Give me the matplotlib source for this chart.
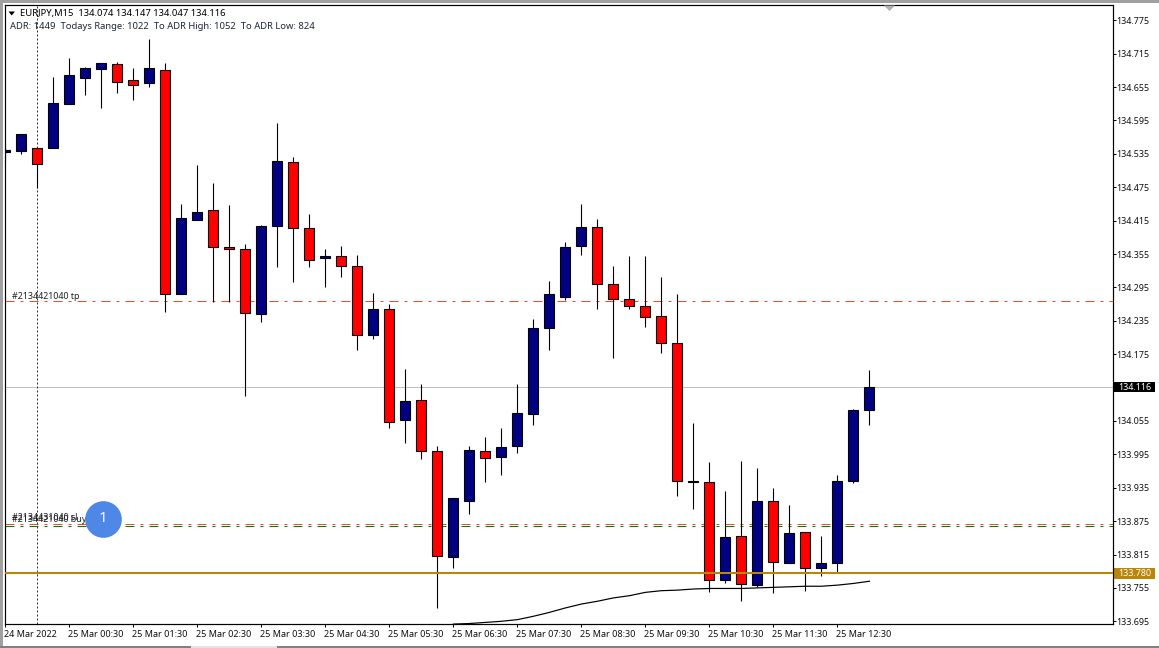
#!/usr/bin/env python3
# -*- coding: utf-8 -*-
"""
EURJPY M15 candles, MT4 look
"""

import matplotlib
matplotlib.use('Agg')
import matplotlib.pyplot as plt
from matplotlib.patches import Rectangle, Polygon
from matplotlib.transforms import blended_transform_factory, ScaledTranslation

# candle values
opens = [134.5375, 134.541, 134.545, 134.546, 134.625, 134.672, 134.688, 134.696, 134.667, 134.663,
         134.685, 134.284, 134.417, 134.434, 134.367, 134.364, 134.248, 134.405, 134.520, 134.401,
         134.347, 134.351, 134.333, 134.209, 134.256, 134.056, 134.092, 134.001, 133.810, 133.912,
         134.001, 133.990, 134.010, 134.068, 134.222, 134.277, 134.369, 134.403, 134.302, 134.275,
         134.261, 134.243, 134.195, 133.948, 133.945, 133.769, 133.848, 133.760, 133.911, 133.799,
         133.855, 133.790, 133.799, 133.948, 134.074]
highs = [134.5473, 134.570, 134.545, 134.673, 134.707, 134.691, 134.698, 134.700, 134.689, 134.741,
         134.698, 134.445, 134.515, 134.483, 134.443, 134.373, 134.407, 134.591, 134.529, 134.427,
         134.364, 134.369, 134.353, 134.285, 134.265, 134.148, 134.121, 134.010, 133.916, 134.010,
         134.026, 134.042, 134.121, 134.238, 134.307, 134.377, 134.445, 134.418, 134.334, 134.351,
         134.351, 134.314, 134.283, 134.051, 133.981, 133.929, 133.983, 133.971, 133.935, 133.904,
         133.855, 133.848, 133.957, 134.076, 134.147]
lows = [134.5222, 134.534, 134.474, 134.546, 134.625, 134.641, 134.618, 134.645, 134.632, 134.655,
        134.251, 134.284, 134.417, 134.269, 134.268, 134.099, 134.232, 134.332, 134.304, 134.332,
        134.296, 134.313, 134.183, 134.203, 134.043, 134.016, 133.987, 133.719, 133.791, 133.888,
        133.946, 133.958, 133.998, 134.048, 134.183, 134.273, 134.354, 134.257, 134.169, 134.257,
        134.224, 134.178, 133.921, 133.896, 133.748, 133.764, 133.732, 133.756, 133.746, 133.799,
        133.750, 133.777, 133.784, 133.944, 134.047]
closes = [134.542, 134.570, 134.516, 134.626, 134.676, 134.689, 134.698, 134.665, 134.659, 134.689,
          134.283, 134.419, 134.430, 134.367, 134.364, 134.249, 134.405, 134.522, 134.401, 134.345,
          134.351, 134.333, 134.209, 134.256, 134.054, 134.090, 134.001, 133.812, 133.916, 134.002,
          133.988, 134.008, 134.069, 134.222, 134.283, 134.367, 134.403, 134.302, 134.275, 134.261,
          134.241, 134.196, 133.947, 133.945, 133.769, 133.846, 133.762, 133.911, 133.801, 133.853,
          133.790, 133.799, 133.948, 134.074, 134.116]

# black line, starts at candle 28
ma_start = 28
ma_values = [133.690, 133.691, 133.693, 133.695, 133.698, 133.704, 133.711, 133.719, 133.726,
             133.731, 133.737, 133.741, 133.747, 133.750, 133.751, 133.753, 133.754, 133.754,
             133.754, 133.755, 133.756, 133.757, 133.758, 133.758, 133.760, 133.763, 133.767]

price_ticks = [134.775, 134.715, 134.655, 134.595, 134.535, 134.475, 134.415, 134.355, 134.295,
               134.235, 134.175, 134.055, 133.995, 133.935, 133.875, 133.815, 133.755, 133.695]
time_ticks = [0, 4, 8, 12, 16, 20, 24, 28, 32, 36, 40, 44, 48, 52]
time_labels = ['24 Mar 2022', '25 Mar 00:30', '25 Mar 01:30', '25 Mar 02:30', '25 Mar 03:30',
               '25 Mar 04:30', '25 Mar 05:30', '25 Mar 06:30', '25 Mar 07:30', '25 Mar 08:30',
               '25 Mar 09:30', '25 Mar 10:30', '25 Mar 11:30', '25 Mar 12:30']

bid = 134.116
gold_level = 133.781
gold_label = '133.780'
tp_level = 134.270
sl_level = 133.870
buy_level = 133.866

W, H = 1159, 648
plt.rcParams['font.family'] = ['Noto Sans', 'DejaVu Sans']
FS = 6.4
FS_HEAD = 6.8
FS_X = 6.5
FS_Y = 6.45
PX = 0.72  # one pixel in points at dpi 100

fig = plt.figure(figsize=(W / 100, H / 100), dpi=100, facecolor='white')
ax = fig.add_axes([5 / W, 1 - 624.3 / H, (1112.7 - 5) / W, (624.3 - 5) / H])
ax.set_xlim(-0.02, 69.2)
ax.set_ylim(133.6896, 134.8025)

# window edges
fig.add_artist(Rectangle((0, 1 - 2.5 / H), 1, 2.5 / H, transform=fig.transFigure, color='#a0a0a0', lw=0))
fig.add_artist(Rectangle((0, 0), 2.5 / W, 1, transform=fig.transFigure, color='#a0a0a0', lw=0))
fig.add_artist(Rectangle((0, 0), 1, 2.5 / H, transform=fig.transFigure, color='#808080', lw=0))
fig.add_artist(Rectangle((191 / W, 0), 86 / W, 2.5 / H, transform=fig.transFigure, color='#e4e4e4', lw=0))
fig.add_artist(Polygon([(884 / W, 1 - 5.5 / H), (895 / W, 1 - 5.5 / H), (889.5 / W, 1 - 11 / H)],
                       transform=fig.transFigure, color='#b0b0b0', lw=0))

# levels under the candles
ax.axhline(bid, color='#c0c0c0', lw=PX, zorder=1)
dashdot = (0, (9, 6, 3, 6))
ax.axhline(tp_level, color='#e8501e', lw=PX, ls=dashdot, zorder=1)
ax.axhline(sl_level, color='#e8501e', lw=PX, ls=dashdot, zorder=1)
ax.axhline(buy_level, color='#008000', lw=PX, ls=dashdot, zorder=1)
ax.axvline(2, color='#303030', lw=PX, ls=(0, (2, 2)), zorder=1)

# candles
x = list(range(len(opens)))
ax.vlines(x, lows, highs, color='black', lw=PX * 1.1, zorder=2)
for i in x:
    col = '#000080' if closes[i] >= opens[i] else '#ff0000'
    bottom = min(opens[i], closes[i])
    ax.bar(i, abs(closes[i] - opens[i]), bottom=bottom, width=0.625, color=col,
           edgecolor='black', linewidth=PX * 1.1, zorder=3)

ax.plot(range(ma_start, ma_start + len(ma_values)), ma_values, color='black', lw=PX * 1.2, zorder=4)
ax.axhline(gold_level, color='#b8860b', lw=1.5, zorder=5)

# order labels
ax.text(0.42, tp_level + 0.009, '#2134421040 tp', fontsize=FS, color='#202020', va='center', zorder=6)
ax.text(0.42, sl_level + 0.0115, '#2134431040 sl', fontsize=FS, color='#202020', va='center', zorder=6)
ax.text(0.40, sl_level + 0.0075, '#2134421040 buy', fontsize=FS, color='#202020', va='center', zorder=6)

# numbered marker
ax.plot([6.125], [133.879], 'o', ms=26.4, mfc='#4f87e6', mec='none', zorder=7, clip_on=False)
ax.text(6.125, 133.879, '1', color='white', fontsize=11, ha='center', va='center', zorder=8)

# axes
for s in ax.spines.values():
    s.set_linewidth(PX * 1.2)
ax.yaxis.tick_right()
ax.set_yticks(price_ticks)
ax.set_yticklabels(['%.3f' % p for p in price_ticks])
ax.set_xticks(time_ticks)
ax.set_xticklabels(time_labels, ha='left')
ax.tick_params(axis='y', length=2.4, width=PX, pad=0.5, labelsize=FS_Y, labelcolor='#101010')
ax.tick_params(axis='x', length=2.4, width=PX, pad=1.8, labelsize=FS_X, labelcolor='#101010')
for lab in ax.get_xticklabels():
    lab.set_transform(lab.get_transform() + ScaledTranslation(-1 / 100, 0, fig.dpi_scale_trans))

# price boxes on the scale
trans = blended_transform_factory(ax.transAxes, ax.transData)
box_x = (1114 - 5) / 1107.7
box_w = 41 / 1107.7
ax.add_patch(Rectangle((box_x, bid - 0.0087), box_w, 0.0174, transform=trans, color='black', lw=0, clip_on=False))
ax.text(box_x + 0.0037, bid, '%.3f' % bid, transform=trans, color='white', fontsize=FS_Y, va='center')
ax.add_patch(Rectangle((box_x, gold_level - 0.0095), box_w, 0.019, transform=trans, color='#b8860b', lw=0, clip_on=False))
ax.text(box_x + 0.0037, gold_level, gold_label, transform=trans, color='white', fontsize=FS_Y, va='center')

# header
fig.text(20 / W, 1 - 13.5 / H, 'EURJPY,M15  134.074 134.147 134.047 134.116', fontsize=FS_HEAD, color='black', va='center')
fig.add_artist(Polygon([(8.5 / W, 1 - 11.5 / H), (15 / W, 1 - 11.5 / H), (11.7 / W, 1 - 15.5 / H)],
                       transform=fig.transFigure, color='black', lw=0))
fig.text(10 / W, 1 - 26.5 / H, 'ADR: 1449  Todays Range: 1022  To ADR High: 1052  To ADR Low: 824',
         fontsize=FS_HEAD, color='#1c2838', va='center')

plt.savefig('out.png', dpi=100)
